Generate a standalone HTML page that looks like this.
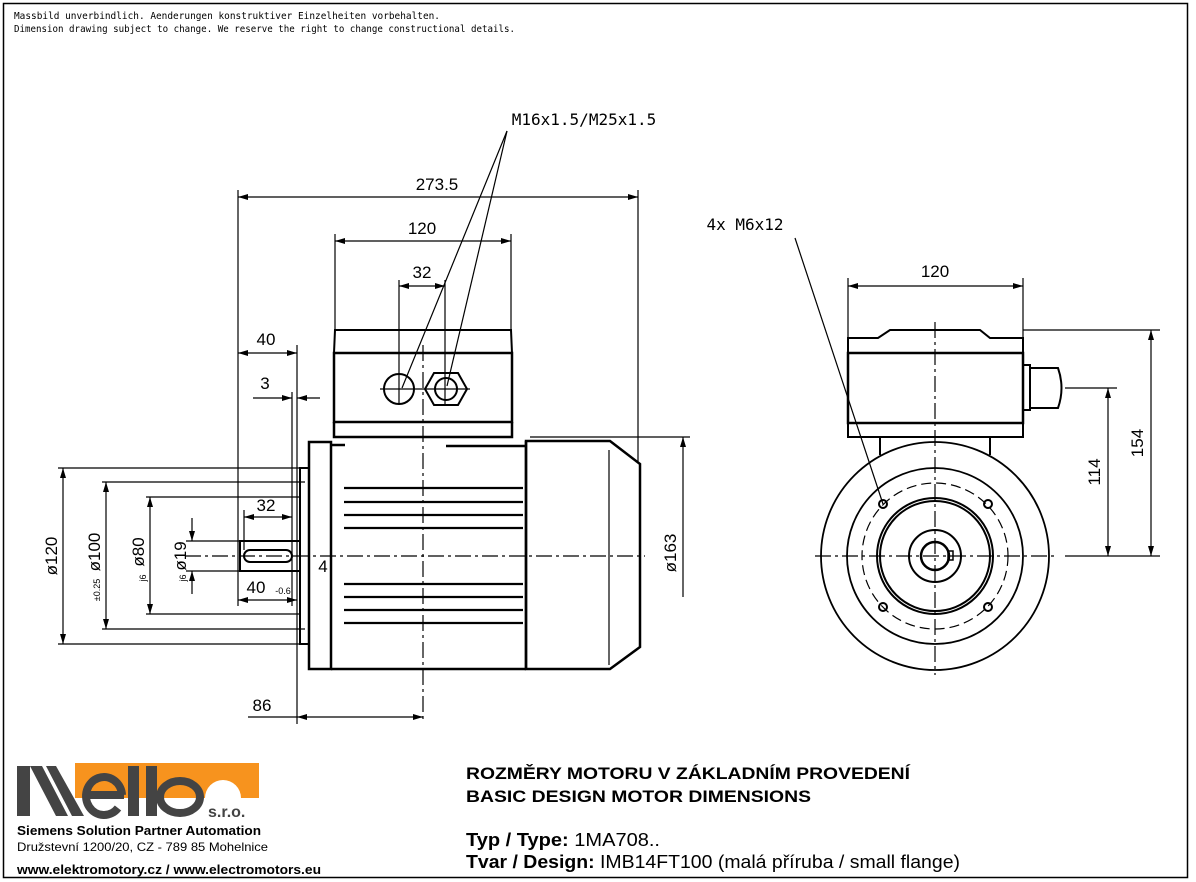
<!DOCTYPE html>
<html><head><meta charset="utf-8"><style>
html,body{margin:0;padding:0;background:#fff;}
svg{display:block;}
text{font-family:"Liberation Sans",sans-serif;}
.m{font-family:"DejaVu Sans Mono","Liberation Mono",monospace;}
</style></head><body>
<svg width="1196" height="882" viewBox="0 0 1196 882" xmlns="http://www.w3.org/2000/svg">
<defs>
<marker id="a" viewBox="0 0 10 6" refX="10" refY="3" markerWidth="14" markerHeight="6" markerUnits="userSpaceOnUse" orient="auto-start-reverse"><path d="M0,0L10,3L0,6z" fill="#000"/></marker>
</defs>
<rect x="3.5" y="3.5" width="1184" height="874" fill="none" stroke="#000" stroke-width="1.5"/>
<text x="14" y="19" font-size="10" class="m" textLength="426" lengthAdjust="spacingAndGlyphs">Massbild unverbindlich. Aenderungen konstruktiver Einzelheiten vorbehalten.</text>
<text x="14" y="32" font-size="10" class="m" textLength="501" lengthAdjust="spacingAndGlyphs">Dimension drawing subject to change. We reserve the right to change constructional details.</text>

<g stroke="#000" fill="none" stroke-width="1.2">
<line x1="238" y1="190" x2="238" y2="606"/>
<line x1="638" y1="190" x2="638" y2="462"/>
<line x1="335" y1="234" x2="335" y2="330"/>
<line x1="511" y1="234" x2="511" y2="330"/>
<line x1="399" y1="280" x2="399" y2="405"/>
<line x1="445" y1="280" x2="445" y2="405"/>
<line x1="297" y1="345" x2="297" y2="724"/>
<line x1="292" y1="392" x2="292" y2="606"/>
<line x1="238" y1="197" x2="638" y2="197" marker-start="url(#a)" marker-end="url(#a)"/>
<line x1="335" y1="241" x2="511" y2="241" marker-start="url(#a)" marker-end="url(#a)"/>
<line x1="399" y1="286" x2="445" y2="286" marker-start="url(#a)" marker-end="url(#a)"/>
<line x1="238" y1="353" x2="297" y2="353" marker-start="url(#a)" marker-end="url(#a)"/>
<line x1="253" y1="398" x2="292" y2="398" marker-end="url(#a)"/>
<line x1="320" y1="398" x2="297" y2="398" marker-end="url(#a)"/>
<line x1="297" y1="717" x2="423" y2="717" marker-start="url(#a)" marker-end="url(#a)"/>
<line x1="248" y1="717" x2="297" y2="717"/>
<line x1="244" y1="517" x2="292" y2="517" marker-start="url(#a)" marker-end="url(#a)"/>
<line x1="244" y1="510" x2="244" y2="550"/>
<line x1="238" y1="600" x2="297" y2="600" marker-start="url(#a)" marker-end="url(#a)"/>
<line x1="58" y1="468" x2="300" y2="468"/><line x1="58" y1="644" x2="300" y2="644"/>
<line x1="63" y1="468" x2="63" y2="644" marker-start="url(#a)" marker-end="url(#a)"/>
<line x1="102" y1="482" x2="305" y2="482"/><line x1="102" y1="629" x2="305" y2="629"/>
<line x1="106" y1="482" x2="106" y2="629" marker-start="url(#a)" marker-end="url(#a)"/>
<line x1="146" y1="497" x2="300" y2="497"/><line x1="146" y1="614" x2="300" y2="614"/>
<line x1="150" y1="497" x2="150" y2="614" marker-start="url(#a)" marker-end="url(#a)"/>
<line x1="186" y1="541" x2="300" y2="541"/><line x1="186" y1="571" x2="300" y2="571"/>
<line x1="192" y1="518" x2="192" y2="541" marker-end="url(#a)"/>
<line x1="192" y1="594" x2="192" y2="571" marker-end="url(#a)"/>
<line x1="530" y1="437" x2="690" y2="437"/>
<line x1="683" y1="597" x2="683" y2="437" marker-end="url(#a)"/>
<line x1="507" y1="131" x2="402" y2="388"/>
<line x1="507" y1="131" x2="447" y2="386"/>
<line x1="795" y1="238" x2="883" y2="504"/>
</g>
<g font-size="17" text-anchor="middle">
<text x="437" y="190">273.5</text>
<text x="422" y="234">120</text>
<text x="422" y="278">32</text>
<text x="266" y="345">40</text>
<text x="265" y="389">3</text>
<text x="266" y="511">32</text>
<text x="256" y="593">40</text>
<text x="262" y="711">86</text>
<text x="323" y="572">4</text>
<text x="935" y="277">120</text>
<text x="584" y="125" class="m" font-size="16">M16x1.5/M25x1.5</text>
<text x="745" y="230" class="m" font-size="16">4x M6x12</text>
<text transform="translate(57,556) rotate(-90)">ø120</text>
<text transform="translate(100,552) rotate(-90)">ø100</text>
<text transform="translate(100,590) rotate(-90)" font-size="9">±0.25</text>
<text transform="translate(144,552) rotate(-90)">ø80</text>
<text transform="translate(146,578) rotate(-90)" font-size="9">j6</text>
<text transform="translate(186,556) rotate(-90)">ø19</text>
<text transform="translate(186,578) rotate(-90)" font-size="9">j6</text>
<text transform="translate(676,553) rotate(-90)">ø163</text>
<text transform="translate(1100,472) rotate(-90)">114</text>
<text transform="translate(1143,443) rotate(-90)">154</text>
<text x="283" y="594" font-size="9">-0.6</text>
</g>

<g stroke="#000" fill="none" stroke-width="2.5">
<path d="M335 330H511L512 353H334Z" stroke-width="2"/>
<rect x="334" y="353" width="178" height="69"/>
<path d="M334 422V437H512V422"/>
<rect x="309" y="442" width="22" height="227"/>
<path d="M331 445H345M446 446H526M345 669H526M331 669H345"/>
<path d="M526 441H610L640 464V647L610 669H526Z"/>
<line x1="609" y1="450" x2="609" y2="665" stroke-width="1.2"/>
<path d="M526 441V669" />
<g stroke-width="2.2">
<line x1="344" y1="488" x2="523" y2="488"/><line x1="344" y1="502" x2="523" y2="502"/>
<line x1="344" y1="515" x2="523" y2="515"/><line x1="344" y1="528" x2="523" y2="528"/>
<line x1="344" y1="584" x2="523" y2="584"/><line x1="344" y1="597" x2="523" y2="597"/>
<line x1="344" y1="610" x2="523" y2="610"/><line x1="344" y1="623" x2="523" y2="623"/>
</g>
<rect x="300" y="468" width="9" height="176" stroke-width="2"/>
<rect x="240" y="541" width="60" height="30" stroke-width="2"/>
<rect x="244" y="550" width="48" height="12" rx="6" stroke-width="2"/>
<circle cx="399" cy="389" r="15" stroke-width="2"/>
<path d="M434 373L458 373L467 389L458 405L434 405L425 389Z" stroke-width="2"/>
<circle cx="446" cy="389" r="11" stroke-width="2"/>
</g>
<g stroke="#000" fill="none" stroke-width="1.2" stroke-dasharray="16,4,3,4">
<line x1="423" y1="345" x2="423" y2="720"/>
<line x1="185" y1="556" x2="645" y2="556"/>
<line x1="380" y1="389" x2="470" y2="389" stroke-dasharray="none"/>
</g>

<g stroke="#000" fill="none" stroke-width="2">
<path d="M848 338H878L890 330H980L990 338H1023V353H848Z"/>
<rect x="848" y="353" width="175" height="70" stroke-width="2.5"/>
<path d="M848 423V437H1023V423"/>
<path d="M880 437V455M990 437V455"/>
<path d="M1023 365H1030V410H1023M1030 368H1058Q1065 388 1058 408H1030"/>
<circle cx="935" cy="556" r="114" stroke-width="1.8"/>
<circle cx="935" cy="556" r="88" stroke-width="1.8"/>
<circle cx="935" cy="556" r="73" stroke-width="1.2" stroke-dasharray="10,5"/>
<circle cx="935" cy="556" r="58"/>
<circle cx="935" cy="556" r="55"/>
<circle cx="935" cy="556" r="26"/>
<circle cx="935" cy="556" r="14" stroke-width="2.5"/>
<rect x="948" y="551" width="5" height="9" stroke-width="1.5"/>
<circle cx="883" cy="504" r="4"/><circle cx="988" cy="504" r="4"/>
<circle cx="883" cy="607" r="4"/><circle cx="988" cy="607" r="4"/>
</g>
<g stroke="#000" fill="none" stroke-width="1.2">
<line x1="935" y1="322" x2="935" y2="675" stroke-dasharray="16,4,3,4"/>
<line x1="815" y1="556" x2="1055" y2="556" stroke-dasharray="16,4,3,4"/>
<line x1="1065" y1="556" x2="1160" y2="556"/>
<line x1="1023" y1="330" x2="1160" y2="330"/>
<line x1="1065" y1="388" x2="1117" y2="388"/>
<line x1="848" y1="278" x2="848" y2="338"/><line x1="1023" y1="278" x2="1023" y2="338"/>
<line x1="848" y1="286" x2="1023" y2="286" marker-start="url(#a)" marker-end="url(#a)"/>
<line x1="1108" y1="388" x2="1108" y2="556" marker-start="url(#a)" marker-end="url(#a)"/>
<line x1="1151" y1="330" x2="1151" y2="556" marker-start="url(#a)" marker-end="url(#a)"/>
</g>

<!-- logo -->
<rect x="75" y="763" width="184" height="35" fill="#f7931e"/>
<path d="M205 798a18 18 0 0 1 36 0z" fill="#fff"/>
<path d="M75 798a10 10 0 0 1 10 -10" fill="none"/>
<g fill="#444">
<rect x="17" y="766" width="13" height="50"/>
<path d="M30 766H42L68 816H56Z"/>
<path d="M46 766H56L84 816H72Z"/>
<path d="M86 795H124M122 795a18 19 0 1 0 -4 13" fill="none" stroke="#444" stroke-width="8"/>
<rect x="128" y="766" width="11" height="50"/>
<rect x="146" y="766" width="11" height="50"/>
<ellipse cx="180" cy="797" rx="20" ry="16" fill="none" stroke="#444" stroke-width="8"/>
</g>
<text x="208" y="817" font-size="16" font-weight="bold" fill="#444">s.r.o.</text>
<text x="17" y="835" font-size="12.5" font-weight="bold" textLength="244" lengthAdjust="spacingAndGlyphs">Siemens Solution Partner Automation</text>
<text x="17" y="851" font-size="12" textLength="251" lengthAdjust="spacingAndGlyphs">Družstevní 1200/20, CZ - 789 85 Mohelnice</text>
<text x="17" y="874" font-size="12.5" font-weight="bold" textLength="304" lengthAdjust="spacingAndGlyphs">www.elektromotory.cz / www.electromotors.eu</text>

<g font-size="17" font-weight="bold">
<text x="466" y="779" textLength="444" lengthAdjust="spacingAndGlyphs">ROZMĚRY MOTORU V ZÁKLADNÍM PROVEDENÍ</text>
<text x="466" y="802" textLength="345" lengthAdjust="spacingAndGlyphs">BASIC DESIGN MOTOR DIMENSIONS</text>
<text x="466" y="846" font-size="18" textLength="194" lengthAdjust="spacingAndGlyphs">Typ / Type: <tspan font-weight="normal">1MA708..</tspan></text>
<text x="466" y="868" font-size="18" textLength="494" lengthAdjust="spacingAndGlyphs">Tvar / Design: <tspan font-weight="normal">IMB14FT100 (malá příruba / small flange)</tspan></text>
</g>
</svg>
</body></html>
